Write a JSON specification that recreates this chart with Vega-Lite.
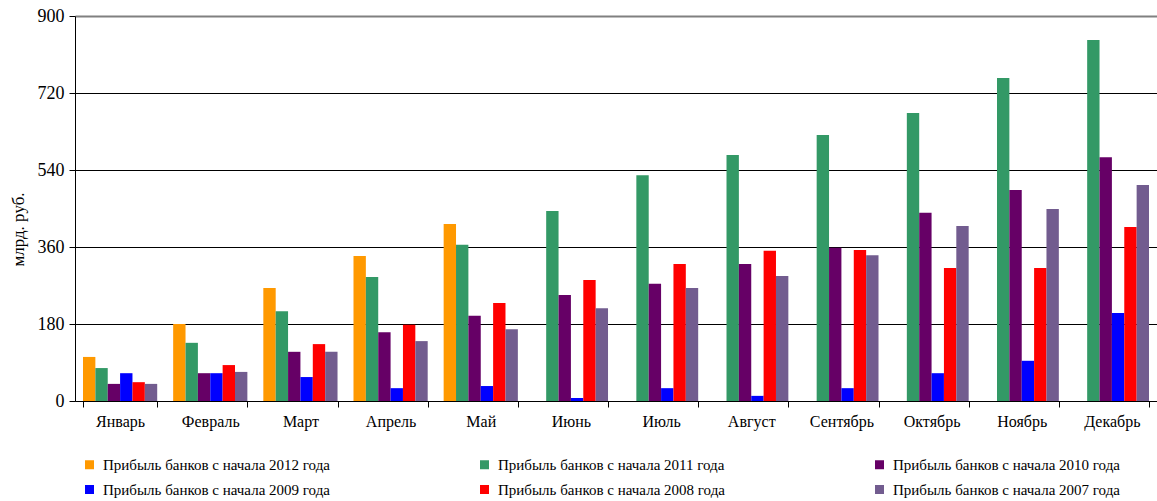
{
  "$schema": "https://vega.github.io/schema/vega-lite/v6.json",
  "width": 1082,
  "height": 385,
  "autosize": {"type": "none"},
  "padding": {"left": 75, "top": 16, "right": 0, "bottom": 100},
  "background": "white",
  "config": {
    "font": "Liberation Serif",
    "view": {"stroke": null},
    "axis": {"labelColor": "#000", "titleColor": "#000", "labelFont": "Liberation Serif", "titleFont": "Liberation Serif"},
    "legend": {"labelFont": "Liberation Serif"}
  },
  "data": {
    "values": [
      {"month": "Январь", "year": "2012", "value": 103},
      {"month": "Январь", "year": "2011", "value": 77},
      {"month": "Январь", "year": "2010", "value": 40},
      {"month": "Январь", "year": "2009", "value": 65},
      {"month": "Январь", "year": "2008", "value": 44},
      {"month": "Январь", "year": "2007", "value": 40},
      {"month": "Февраль", "year": "2012", "value": 180},
      {"month": "Февраль", "year": "2011", "value": 136},
      {"month": "Февраль", "year": "2010", "value": 65},
      {"month": "Февраль", "year": "2009", "value": 65},
      {"month": "Февраль", "year": "2008", "value": 84},
      {"month": "Февраль", "year": "2007", "value": 68},
      {"month": "Март", "year": "2012", "value": 264},
      {"month": "Март", "year": "2011", "value": 210},
      {"month": "Март", "year": "2010", "value": 115},
      {"month": "Март", "year": "2009", "value": 56},
      {"month": "Март", "year": "2008", "value": 133},
      {"month": "Март", "year": "2007", "value": 115},
      {"month": "Апрель", "year": "2012", "value": 339},
      {"month": "Апрель", "year": "2011", "value": 290},
      {"month": "Апрель", "year": "2010", "value": 161},
      {"month": "Апрель", "year": "2009", "value": 30},
      {"month": "Апрель", "year": "2008", "value": 178},
      {"month": "Апрель", "year": "2007", "value": 140},
      {"month": "Май", "year": "2012", "value": 414},
      {"month": "Май", "year": "2011", "value": 365},
      {"month": "Май", "year": "2010", "value": 199},
      {"month": "Май", "year": "2009", "value": 35},
      {"month": "Май", "year": "2008", "value": 229},
      {"month": "Май", "year": "2007", "value": 168},
      {"month": "Июнь", "year": "2011", "value": 444},
      {"month": "Июнь", "year": "2010", "value": 248},
      {"month": "Июнь", "year": "2009", "value": 7},
      {"month": "Июнь", "year": "2008", "value": 283},
      {"month": "Июнь", "year": "2007", "value": 217},
      {"month": "Июль", "year": "2011", "value": 528},
      {"month": "Июль", "year": "2010", "value": 274},
      {"month": "Июль", "year": "2009", "value": 30},
      {"month": "Июль", "year": "2008", "value": 320},
      {"month": "Июль", "year": "2007", "value": 264},
      {"month": "Август", "year": "2011", "value": 575},
      {"month": "Август", "year": "2010", "value": 320},
      {"month": "Август", "year": "2009", "value": 12},
      {"month": "Август", "year": "2008", "value": 351},
      {"month": "Август", "year": "2007", "value": 292},
      {"month": "Сентябрь", "year": "2011", "value": 622},
      {"month": "Сентябрь", "year": "2010", "value": 358},
      {"month": "Сентябрь", "year": "2009", "value": 30},
      {"month": "Сентябрь", "year": "2008", "value": 353},
      {"month": "Сентябрь", "year": "2007", "value": 341},
      {"month": "Октябрь", "year": "2011", "value": 673},
      {"month": "Октябрь", "year": "2010", "value": 440},
      {"month": "Октябрь", "year": "2009", "value": 65},
      {"month": "Октябрь", "year": "2008", "value": 311},
      {"month": "Октябрь", "year": "2007", "value": 409},
      {"month": "Ноябрь", "year": "2011", "value": 755},
      {"month": "Ноябрь", "year": "2010", "value": 493},
      {"month": "Ноябрь", "year": "2009", "value": 94},
      {"month": "Ноябрь", "year": "2008", "value": 311},
      {"month": "Ноябрь", "year": "2007", "value": 449},
      {"month": "Декабрь", "year": "2011", "value": 844},
      {"month": "Декабрь", "year": "2010", "value": 570},
      {"month": "Декабрь", "year": "2009", "value": 206},
      {"month": "Декабрь", "year": "2008", "value": 407},
      {"month": "Декабрь", "year": "2007", "value": 505}
    ]
  },
  "mark": {"type": "bar"},
  "encoding": {
    "x": {
      "field": "month",
      "type": "nominal",
      "sort": ["Январь", "Февраль", "Март", "Апрель", "Май", "Июнь", "Июль", "Август", "Сентябрь", "Октябрь", "Ноябрь", "Декабрь"],
      "scale": {"paddingInner": 0.177, "paddingOuter": 0.0887},
      "axis": {
        "title": null,
        "labelAngle": 0,
        "tickBand": "extent",
        "domainColor": "#000",
        "tickColor": "#000",
        "tickSize": 6,
        "labelFontSize": 16,
        "labelPadding": 6
      }
    },
    "xOffset": {
      "field": "year",
      "type": "nominal",
      "sort": ["2012", "2011", "2010", "2009", "2008", "2007"],
      "scale": {"paddingInner": 0, "paddingOuter": 0}
    },
    "y": {
      "field": "value",
      "type": "quantitative",
      "scale": {"domain": [0, 900], "nice": false},
      "axis": {
        "values": [0, 180, 360, 540, 720, 900],
        "title": "млрд. руб.",
        "titleFontSize": 17,
        "titleFontWeight": "normal",
        "titleX": -57,
        "titleY": 213,
        "titleAngle": -90,
        "titleAlign": "center",
        "titleBaseline": "middle",
        "labelFontSize": 18,
        "labelPadding": 5,
        "tickSize": 6,
        "tickColor": "#000",
        "domainColor": "#000",
        "grid": true,
        "gridColor": {"condition": {"test": "datum.value === 900", "value": "#808080"}, "value": "#000"},
        "gridWidth": {"condition": {"test": "datum.value === 900", "value": 2}, "value": 1},
        "gridOpacity": 1
      }
    },
    "color": {
      "field": "year",
      "type": "nominal",
      "sort": ["2012", "2011", "2010", "2009", "2008", "2007"],
      "scale": {
        "domain": ["2012", "2011", "2010", "2009", "2008", "2007"],
        "range": ["#FF9900", "#339966", "#660066", "#0000FF", "#FF0000", "#725C8F"]
      },
      "legend": {
        "title": null,
        "orient": "none",
        "legendX": 7,
        "legendY": 441,
        "direction": "horizontal",
        "columns": 3,
        "columnPadding": 147,
        "rowPadding": 9,
        "padding": 0,
        "symbolType": "square",
        "symbolSize": 81,
        "symbolStrokeWidth": 0,
        "symbolOffset": 0,
        "labelOffset": 6,
        "labelFontSize": 15,
        "labelColor": "#000",
        "labelLimit": 400,
        "labelExpr": "'Прибыль банков с начала ' + datum.label + ' года'"
      }
    }
  }
}
